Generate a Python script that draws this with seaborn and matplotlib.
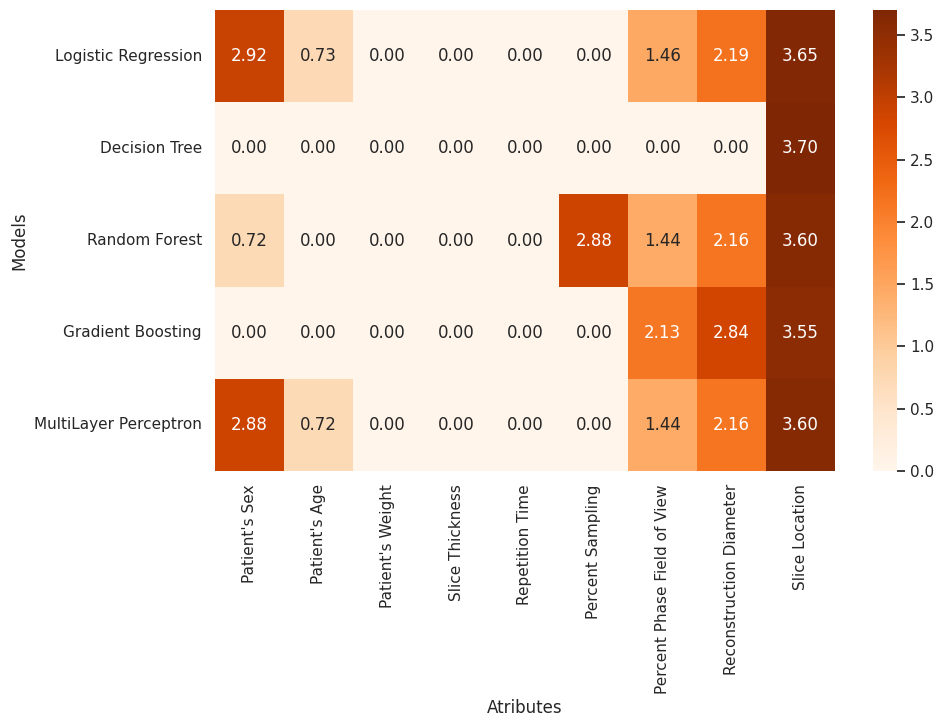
import matplotlib
matplotlib.use('Agg')
import matplotlib.pyplot as plt
import seaborn as sns
import pandas as pd

models = ['Logistic Regression', 'Decision Tree', 'Random Forest',
          'Gradient Boosting', 'MultiLayer Perceptron']
attributes = ["Patient's Sex", "Patient's Age", "Patient's Weight",
              'Slice Thickness', 'Repetition Time', 'Percent Sampling',
              'Percent Phase Field of View', 'Reconstruction Diameter',
              'Slice Location']

logistic = [2.92, 0.73, 0.00, 0.00, 0.00, 0.00, 1.46, 2.19, 3.65]
tree = [0.00, 0.00, 0.00, 0.00, 0.00, 0.00, 0.00, 0.00, 3.70]
forest = [0.72, 0.00, 0.00, 0.00, 0.00, 2.88, 1.44, 2.16, 3.60]
boosting = [0.00, 0.00, 0.00, 0.00, 0.00, 0.00, 2.13, 2.84, 3.55]
mlp = [2.88, 0.72, 0.00, 0.00, 0.00, 0.00, 1.44, 2.16, 3.60]

sns.set_theme()

data = pd.DataFrame([logistic, tree, forest, boosting, mlp],
                    index=models, columns=attributes)

fig = plt.figure(figsize=(9.43, 7.28), dpi=100)
ax = fig.add_axes([215 / 943, 1 - 471 / 728, 620 / 943, 461 / 728])
cax = fig.add_axes([873 / 943, 1 - 471 / 728, 24 / 943, 461 / 728])

sns.heatmap(data, annot=True, fmt='.2f', cmap='Oranges', ax=ax, cbar_ax=cax,
            annot_kws={'size': 12})
ax.set_xlabel('Atributes')
ax.set_ylabel('Models')
ax.tick_params(axis='y', rotation=0)
ax.tick_params(axis='x', rotation=90)

fig.savefig('out.png', dpi=100)
